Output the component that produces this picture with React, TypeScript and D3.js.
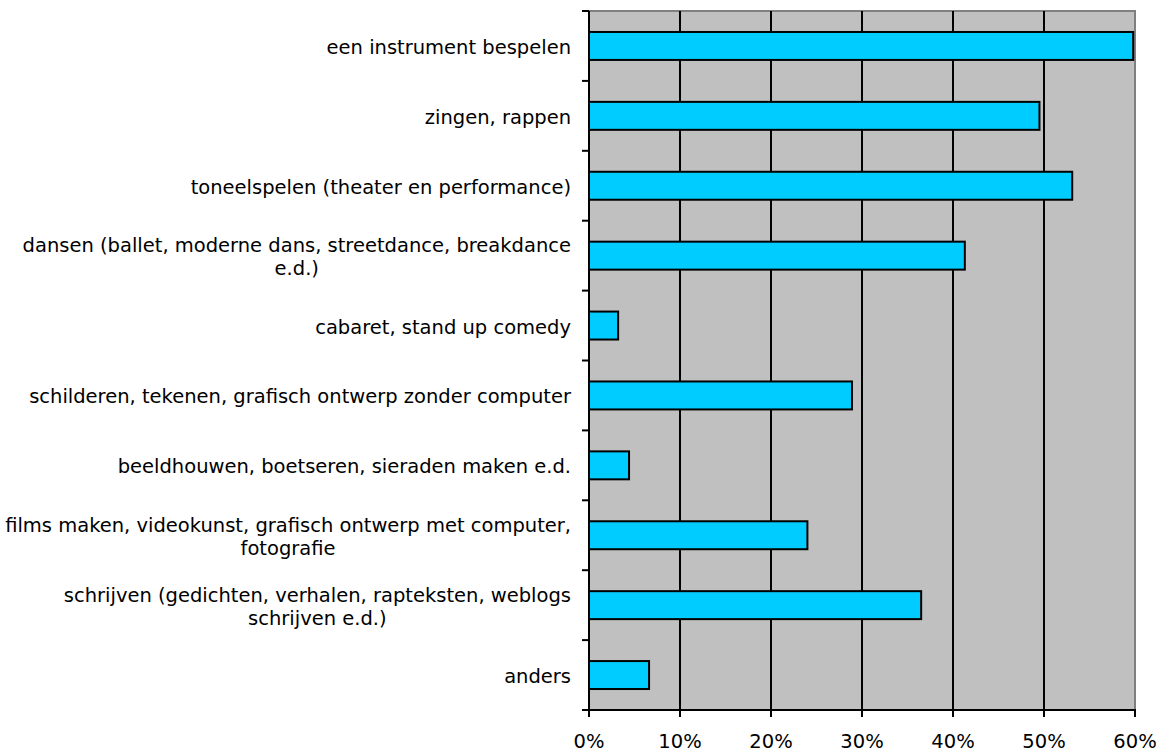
import React, { useEffect, useRef } from "react";
import * as d3 from "d3";

// category labels, already split into their printed lines
const categories: string[][] = [
  ["een instrument bespelen"],
  ["zingen, rappen"],
  ["toneelspelen (theater en performance)"],
  ["dansen (ballet, moderne dans, streetdance, breakdance", "e.d.)"],
  ["cabaret, stand up comedy"],
  ["schilderen, tekenen, grafisch ontwerp zonder computer"],
  ["beeldhouwen, boetseren, sieraden maken e.d."],
  ["films maken, videokunst, grafisch ontwerp met computer,", "fotografie"],
  ["schrijven (gedichten, verhalen, rapteksten, weblogs", "schrijven e.d.)"],
  ["anders"],
];
const values = [59.8, 49.5, 53.1, 41.3, 3.2, 28.9, 4.4, 24.0, 36.5, 6.6];
const xTicks = [0, 10, 20, 30, 40, 50, 60];

const W = 1163;
const H = 753;
const plot = { left: 589, right: 1135, top: 11, bottom: 710 };
const FONT = "DejaVu Sans, Verdana, sans-serif";
const FS = 19.5;

export default function App() {
  const ref = useRef<SVGSVGElement>(null);

  useEffect(() => {
    document.body.style.margin = "0";
    const svg = d3.select(ref.current);
    svg.selectAll("*").remove();

    const x = d3.scaleLinear().domain([0, 60]).range([plot.left, plot.right]);
    const y = d3
      .scaleBand<number>()
      .domain(d3.range(categories.length))
      .range([plot.top, plot.bottom])
      .paddingInner(0.6)
      .paddingOuter(0.3);
    const step = (plot.bottom - plot.top) / categories.length;

    // plot background
    svg.append("rect")
      .attr("x", plot.left).attr("y", plot.top)
      .attr("width", plot.right - plot.left).attr("height", plot.bottom - plot.top)
      .attr("fill", "#c0c0c0");
    svg.append("path")
      .attr("d", `M${plot.left},${plot.top}H${plot.right}V${plot.bottom}`)
      .attr("fill", "none").attr("stroke", "#808080").attr("stroke-width", 2);

    // vertical gridlines
    svg.selectAll(".grid").data(xTicks.slice(1, -1)).enter().append("line")
      .attr("x1", d => x(d)).attr("x2", d => x(d))
      .attr("y1", plot.top).attr("y2", plot.bottom)
      .attr("stroke", "#000").attr("stroke-width", 2);

    // bars
    svg.selectAll(".bar").data(values).enter().append("rect")
      .attr("x", x(0))
      .attr("y", (_, i) => y(i)!)
      .attr("width", d => x(d) - x(0))
      .attr("height", y.bandwidth())
      .attr("fill", "#00ccff")
      .attr("stroke", "#000").attr("stroke-width", 2);

    // axes
    svg.append("line")
      .attr("x1", plot.left).attr("x2", plot.left)
      .attr("y1", plot.top).attr("y2", plot.bottom + 1)
      .attr("stroke", "#000").attr("stroke-width", 2);
    svg.append("line")
      .attr("x1", plot.left - 1).attr("x2", plot.right + 1)
      .attr("y1", plot.bottom).attr("y2", plot.bottom)
      .attr("stroke", "#000").attr("stroke-width", 2);

    // category boundary ticks
    svg.selectAll(".ytick").data(d3.range(categories.length + 1)).enter().append("line")
      .attr("x1", plot.left - 7).attr("x2", plot.left)
      .attr("y1", d => plot.top + d * step).attr("y2", d => plot.top + d * step)
      .attr("stroke", "#000").attr("stroke-width", 2);

    // x ticks + labels
    svg.selectAll(".xtick").data(xTicks).enter().append("line")
      .attr("x1", d => x(d)).attr("x2", d => x(d))
      .attr("y1", plot.bottom).attr("y2", plot.bottom + 7)
      .attr("stroke", "#000").attr("stroke-width", 2);
    svg.selectAll(".xlab").data(xTicks).enter().append("text")
      .attr("x", d => x(d)).attr("y", 748)
      .attr("text-anchor", "middle")
      .attr("font-family", FONT).attr("font-size", FS)
      .attr("fill", "#000")
      .text(d => `${d}%`);

    // category labels
    const labelRight = 571;
    const lineH = 23;
    categories.forEach((lines, i) => {
      const cy = y(i)! + y.bandwidth() / 2;
      const g = svg.append("g");
      const texts = lines.map((ln, j) =>
        g.append("text")
          .attr("y", cy + (j - (lines.length - 1) / 2) * lineH + FS * 0.36 + 1)
          .attr("font-family", FONT).attr("font-size", FS)
          .attr("fill", "#000")
          .attr("text-anchor", "middle")
          .text(ln)
      );
      const maxW = d3.max(texts, t => (t.node() as SVGTextElement).getComputedTextLength()) || 0;
      texts.forEach(t => t.attr("x", labelRight - maxW / 2));
    });
  }, []);

  return <svg ref={ref} width={W} height={H} style={{ display: "block", background: "#fff" }} />;
}
